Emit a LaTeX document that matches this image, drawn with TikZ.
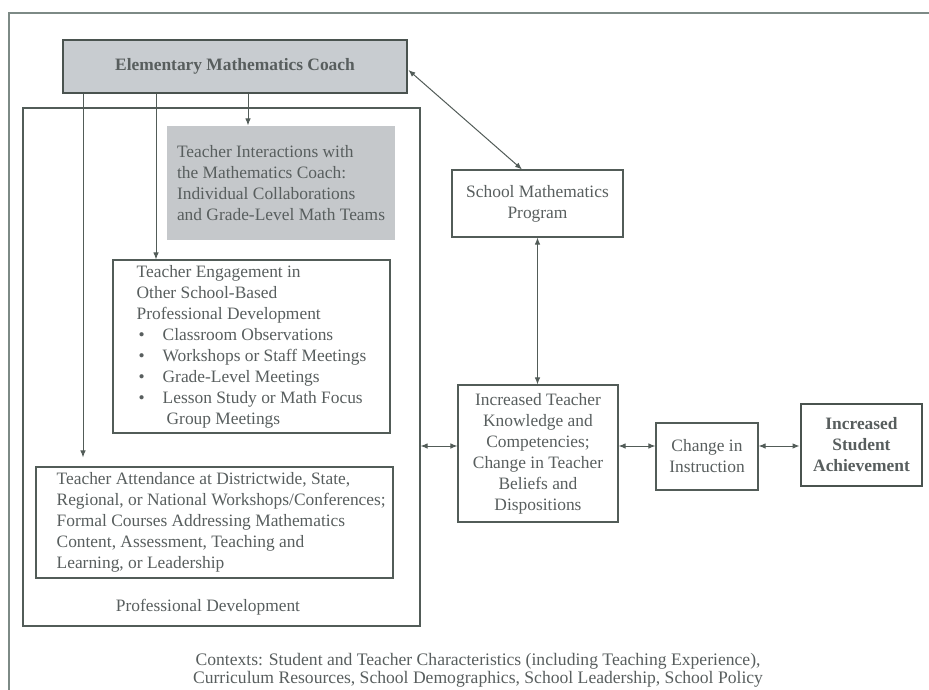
\documentclass[tikz,border=0pt]{standalone}
\usepackage{fontspec}
\setmainfont{Liberation Serif}
\usetikzlibrary{arrows.meta}

\definecolor{linecol}{RGB}{82,92,88}
\definecolor{framecol}{RGB}{125,138,134}
\definecolor{textcol}{RGB}{88,94,94}
\definecolor{coachfill}{RGB}{200,204,208}
\definecolor{interfill}{RGB}{197,200,203}

\newcommand{\bodyfont}{\fontsize{17.4}{21}\selectfont}
\newcommand{\ctxfont}{\fontsize{17.6}{18}\selectfont}
\newcommand{\bul}{\makebox[26pt][l]{\hspace{2pt}\textbullet}}

\tikzset{
  box/.style={draw=linecol, line width=1.1pt, inner sep=0pt, text=textcol, font=\bodyfont},
  keybox/.style={box, line width=2.8pt, draw=linecol!90!black, font=\bodyfont\bfseries},
  txt/.style={inner sep=0pt, text=textcol, font=\bodyfont},
  arr/.style={draw=linecol, line width=1pt, -{Latex[length=7pt,width=5.5pt]}},
  dbl/.style={draw=linecol, line width=1pt, {Latex[length=7pt,width=5.5pt]}-{Latex[length=7pt,width=5.5pt]}}
}

\begin{document}
\begin{tikzpicture}[x=1pt,y=-1pt]
	%\draw[help lines,step=50] (0,0) grid (929,690);
	\useasboundingbox (0,0) rectangle (929,690);
	\draw[framecol,line width=1.4pt] (929,13)--(9,13)--(9,690);
	\node[box,minimum width=397,minimum height=518] (pd) at (221.5,367) {};
	\node[txt] (pdlabel) at (208,607) {Professional Development};
	\node[keybox,fill=coachfill,minimum width=344,minimum height=53] (coach) at (235,66.5) {Elementary Mathematics Coach};
	\node[box,draw=none,fill=interfill,minimum width=228,minimum height=114,align=left] (inter) at (281,183)
		{Teacher Interactions with\\the Mathematics Coach:\\Individual Collaborations\\and Grade-Level Math Teams};
	\node[box,minimum width=277,minimum height=173,align=left] (engage) at (251.5,346.5)
		{Teacher Engagement in\\Other School-Based\\Professional Development\\
		\bul Classroom Observations\\\bul Workshops or Staff Meetings\\\bul Grade-Level Meetings\\
		\bul Lesson Study or Math Focus\\\hspace*{30pt}Group Meetings};
	\node[box,minimum width=357,minimum height=111] (attend) at (214.5,522.5) {};
	\node[txt,anchor=west,align=left] (attendtxt) at ([xshift=21]attend.west)
		{Teacher Attendance at Districtwide, State,\\Regional, or National Workshops/Conferences;\\
		Formal Courses Addressing Mathematics\\Content, Assessment, Teaching and\\Learning, or Leadership};
	\node[box,minimum width=171,minimum height=67,align=center] (school) at (537.5,203.5) {School Mathematics\\Program};
	\node[box,minimum width=160,minimum height=137,align=center] (knowl) at (538,453.5)
		{Increased Teacher\\Knowledge and\\Competencies;\\Change in Teacher\\Beliefs and\\Dispositions};
	\node[box,minimum width=102,minimum height=67,align=center] (instr) at (707,456.5) {Change in\\Instruction};
	\node[keybox,minimum width=121,minimum height=82,align=center] (ach) at (861.5,445) {Increased\\Student\\Achievement};
	\node[txt,font=\ctxfont,align=center] (ctx) at (478,670.5)
		{Contexts: Student and Teacher Characteristics (including Teaching Experience),\\
		Curriculum Resources, School Demographics, School Leadership, School Policy};
	% coach to the three kinds of development
	\coordinate (c1) at ([xshift=-152]coach.south);
	\coordinate (c2) at ([xshift=-79]coach.south);
	\coordinate (c3) at ([xshift=13]coach.south);
	\draw[arr,shorten >=9pt] (c1)--(c1 |- attend.north);
	\draw[arr] (c2)--(c2 |- engage.north);
	\draw[arr] (c3)--(c3 |- inter.north);
	\draw[dbl] ([yshift=-3.5]coach.east)--([xshift=-15.5]school.north);
	\draw[dbl] (school.south)--(school.south |- knowl.north);
	\coordinate (k1) at ([yshift=7.5]knowl.west);
	\draw[dbl] (pd.east |- k1)--(k1);
	\draw[dbl] (k1 -| knowl.east)--(k1 -| instr.west);
	\draw[dbl] (k1 -| instr.east)--(k1 -| ach.west);
\end{tikzpicture}
\end{document}
